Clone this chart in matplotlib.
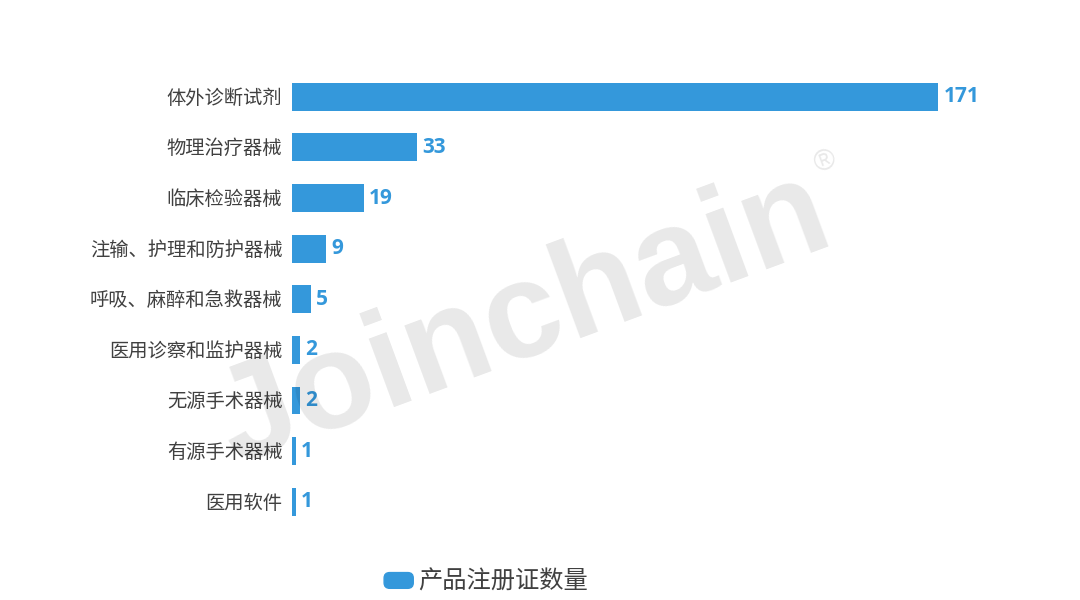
"""Horizontal bars: registered product certificates per device category."""
import matplotlib
matplotlib.use("Agg")
import matplotlib.pyplot as plt
import numpy as np
from matplotlib.legend_handler import HandlerPatch
from matplotlib.patches import FancyBboxPatch, Patch
from matplotlib.transforms import ScaledTranslation

plt.rcParams["font.family"] = ["Noto Sans CJK SC", "DejaVu Sans"]

categories = [
    "体外诊断试剂", "物理治疗器械", "临床检验器械", "注输、护理和防护器械",
    "呼吸、麻醉和急救器械", "医用诊察和监护器械", "无源手术器械", "有源手术器械", "医用软件",
]
counts = [171, 33, 19, 9, 5, 2, 2, 1, 1]
series_name = "产品注册证数量"

BAR_COLOR = "#3498db"
TEXT_COLOR = "#404040"
W, H = 1080, 600


def rounded_handle(legend, orig_handle, xdescent, ydescent, width, height, fontsize):
    return FancyBboxPatch(
        (-xdescent + 3, -ydescent + 3), width - 6, height - 6,
        boxstyle="round,pad=3,rounding_size=4", mutation_aspect=1,
    )


fig = plt.figure(figsize=(W / 100, H / 100), dpi=100)
# axes box in pixels: x from 292, rows from y=71.5 to y=527
ax = fig.add_axes([292 / W, 1 - 527 / H, (W - 292) / W, 455.5 / H])

y = np.arange(len(categories))
ax.barh(y, counts, height=0.55, color=BAR_COLOR)
for yi, val in zip(y, counts):
    ax.annotate(str(val), xy=(val, yi), xytext=(3.8, 0), textcoords="offset points",
                va="center", ha="left", fontsize=15, fontweight="bold",
                color=BAR_COLOR, family=["Open Sans", "DejaVu Sans"])

ax.set_yticks(y)
ax.set_yticklabels(categories, fontsize=13.9, color=TEXT_COLOR)
ax.tick_params(axis="y", length=0, pad=7)
# CJK glyphs sit a little low in the font box, nudge up 1px
nudge = ScaledTranslation(0, 1 / 100, fig.dpi_scale_trans)
for lbl in ax.get_yticklabels():
    lbl.set_transform(lbl.get_transform() + nudge)
ax.set_xticks([])
ax.set_xlim(0, (W - 292) / 3.778)
ax.set_ylim(len(categories) - 0.5, -0.5)
for spine in ax.spines.values():
    spine.set_visible(False)

handle = Patch(color=BAR_COLOR, label=series_name)
fig.legend(handles=[handle], loc="center", bbox_to_anchor=(486 / W, 1 - 582 / H),
           frameon=False, fontsize=17.5, labelcolor=TEXT_COLOR, handlelength=1.2,
           handleheight=0.62, handletextpad=0.2,
           handler_map={Patch: HandlerPatch(patch_func=rounded_handle)})

# watermark sits over the bars, it darkens the two it crosses
fig.text(838 / W, 1 - 242 / H, "Joinchain", fontsize=99, fontweight="bold",
         family=["Liberation Sans", "DejaVu Sans"], color="#000000", alpha=0.09,
         rotation=20.3, rotation_mode="anchor", ha="right", va="baseline", zorder=5)
fig.text(825 / W, 1 - 162 / H, "®", fontsize=21, family=["Liberation Sans", "DejaVu Sans"],
         color="#000000", alpha=0.09, rotation=20, ha="center", va="center", zorder=5)

fig.savefig("out.png", dpi=100, facecolor="white")
